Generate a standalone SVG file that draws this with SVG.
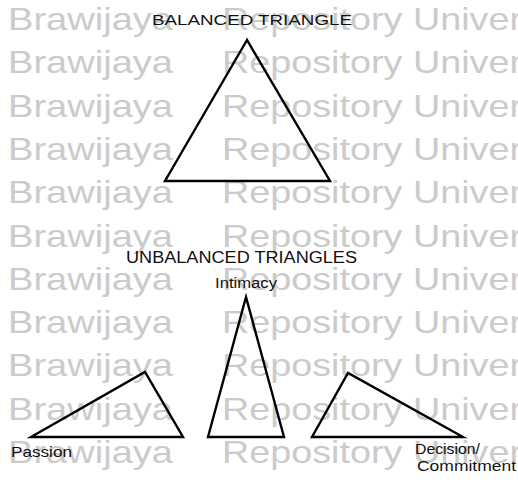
<svg xmlns="http://www.w3.org/2000/svg" xmlns:xlink="http://www.w3.org/1999/xlink" width="518" height="480" viewBox="0 0 518 480">
<style>
.wm{font-family:"Liberation Sans",Arial,sans-serif;font-size:32px;fill:#cbcbcb}
.lbl{font-family:"Liberation Sans",Arial,sans-serif;fill:#111}
.tri{fill:none;stroke:#000;stroke-width:2.4;stroke-linejoin:miter}
</style>
<defs>
<g id="wmrow">
<text class="wm" x="8" y="0" textLength="165" lengthAdjust="spacingAndGlyphs">Brawijaya</text>
<text class="wm" x="222" y="0" textLength="300" lengthAdjust="spacingAndGlyphs">Repository Univer</text>
</g>
</defs>
<rect width="518" height="480" fill="#fff"/>
<g id="watermark">
<use xlink:href="#wmrow" y="30"/>
<use xlink:href="#wmrow" y="73.3"/>
<use xlink:href="#wmrow" y="116.6"/>
<use xlink:href="#wmrow" y="159.9"/>
<use xlink:href="#wmrow" y="203.2"/>
<use xlink:href="#wmrow" y="246.5"/>
<use xlink:href="#wmrow" y="289.8"/>
<use xlink:href="#wmrow" y="333.1"/>
<use xlink:href="#wmrow" y="376.4"/>
<use xlink:href="#wmrow" y="419.7"/>
<use xlink:href="#wmrow" y="463"/>
</g>
<g id="balanced">
<text class="lbl" x="152" y="25" font-size="14" textLength="200" lengthAdjust="spacingAndGlyphs">BALANCED  TRIANGLE</text>
<polygon class="tri" points="247,40 165,181 330,181"/>
</g>
<g id="unbalanced-title">
<text class="lbl" x="126" y="263" font-size="16" textLength="231" lengthAdjust="spacingAndGlyphs">UNBALANCED TRIANGLES</text>
</g>
<g id="intimacy">
<text class="lbl" x="215" y="288" font-size="14" textLength="62" lengthAdjust="spacingAndGlyphs">Intimacy</text>
<polygon class="tri" points="246,297 208,437 284,437"/>
</g>
<g id="passion">
<polygon class="tri" points="31,437 145,372 183,437"/>
<text class="lbl" x="11" y="457" font-size="15" textLength="61" lengthAdjust="spacingAndGlyphs">Passion</text>
</g>
<g id="decision">
<polygon class="tri" points="312,437 348,373 463,437"/>
<text class="lbl" x="415" y="454" font-size="15" textLength="65" lengthAdjust="spacingAndGlyphs">Decision/</text>
<text class="lbl" x="417" y="471" font-size="15" textLength="99" lengthAdjust="spacingAndGlyphs">Commitment</text>
</g>
<g id="connectors"/>
</svg>
